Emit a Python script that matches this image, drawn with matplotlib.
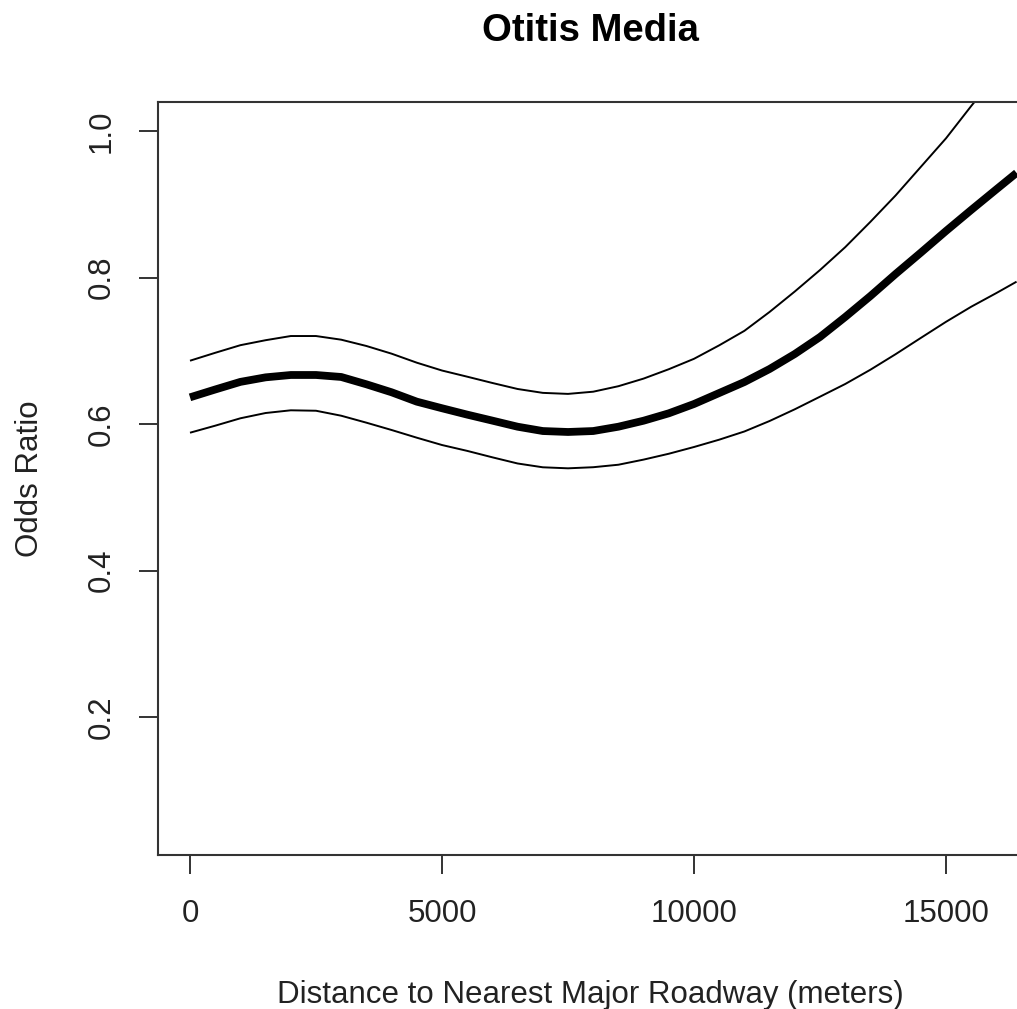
import matplotlib
matplotlib.use("Agg")
import matplotlib.pyplot as plt

distance = [0, 500, 1000, 1500, 2000, 2500, 3000, 3500, 4000, 4500, 5000,
            5500, 6000, 6500, 7000, 7500, 8000, 8500, 9000, 9500, 10000,
            10500, 11000, 11500, 12000, 12500, 13000, 13500, 14000, 14500,
            15000, 15500, 16000, 16400]
odds_ratio = [0.6364, 0.6471, 0.6575, 0.6637, 0.6669, 0.6669, 0.6642, 0.6542,
              0.6433, 0.6305, 0.6215, 0.6128, 0.6046, 0.5963, 0.5904, 0.5891,
              0.5904, 0.5963, 0.6045, 0.6146, 0.6273, 0.6423, 0.6573, 0.6751,
              0.6956, 0.7188, 0.7461, 0.7747, 0.8048, 0.8339, 0.8635, 0.8922,
              0.9204, 0.9428]
upper_ci = [0.6864, 0.6972, 0.7076, 0.7144, 0.7201, 0.7201, 0.7151, 0.7065,
            0.6960, 0.6837, 0.6730, 0.6646, 0.6560, 0.6478, 0.6425, 0.6411,
            0.6441, 0.6516, 0.6620, 0.6748, 0.6890, 0.7074, 0.7272, 0.7530,
            0.7809, 0.8102, 0.8414, 0.8760, 0.9120, 0.9510, 0.9900, 1.0341,
            1.0765, 1.1106]
lower_ci = [0.5881, 0.5977, 0.6078, 0.6150, 0.6187, 0.6181, 0.6113, 0.6018,
            0.5918, 0.5813, 0.5713, 0.5633, 0.5545, 0.5461, 0.5409, 0.5395,
            0.5410, 0.5444, 0.5514, 0.5594, 0.5686, 0.5786, 0.5898, 0.6041,
            0.6201, 0.6373, 0.6546, 0.6741, 0.6953, 0.7175, 0.7395, 0.7601,
            0.7788, 0.7943]

xticks = [0, 5000, 10000, 15000]
yticks = [0.2, 0.4, 0.6, 0.8, 1.0]

plt.rcParams['font.family'] = ['Liberation Sans', 'DejaVu Sans']

W, H = 1017, 1009
fig = plt.figure(figsize=(W / 100, H / 100), dpi=100)
left, right, top, bottom = 158, 1022, 102, 855
ax = fig.add_axes([left / W, 1 - bottom / H, (right - left) / W, (bottom - top) / H])

ax.plot(distance, upper_ci, color='black', lw=1.4, solid_capstyle='butt')
ax.plot(distance, lower_ci, color='black', lw=1.4, solid_capstyle='butt')
ax.plot(distance, odds_ratio, color='black', lw=5.6, solid_capstyle='butt')

x0 = -635
x1 = x0 + (right - left) * 5000 / 252
ax.set_xlim(x0, x1)
ytop = 1.0 + (131 - top) / 732.5
ybot = 0.2 - (bottom - 717) / 732.5
ax.set_ylim(ybot, ytop)

ax.set_xticks(xticks)
ax.set_xticklabels([str(t) for t in xticks])
ax.set_yticks(yticks)
ax.set_yticklabels(['%.1f' % t for t in yticks], rotation=90, va='center')

edge = '#333333'
for s in ['left', 'bottom', 'top']:
    ax.spines[s].set_color(edge)
    ax.spines[s].set_linewidth(1.5)
ax.spines['right'].set_visible(False)

ax.tick_params(axis='both', length=13.5, width=1.4, color=edge, labelsize=22.5,
               labelcolor='#222222')
ax.tick_params(axis='x', pad=18)
ax.tick_params(axis='y', pad=16)

ax.set_xlabel('Distance to Nearest Major Roadway (meters)', fontsize=22.5,
              color='#222222', labelpad=37)
ax.set_ylabel('Odds Ratio', fontsize=22.5, color='#222222', labelpad=30)
ax.set_title('Otitis Media', fontsize=27.5, fontweight='bold', pad=44)

fig.savefig('out.png', dpi=100)
